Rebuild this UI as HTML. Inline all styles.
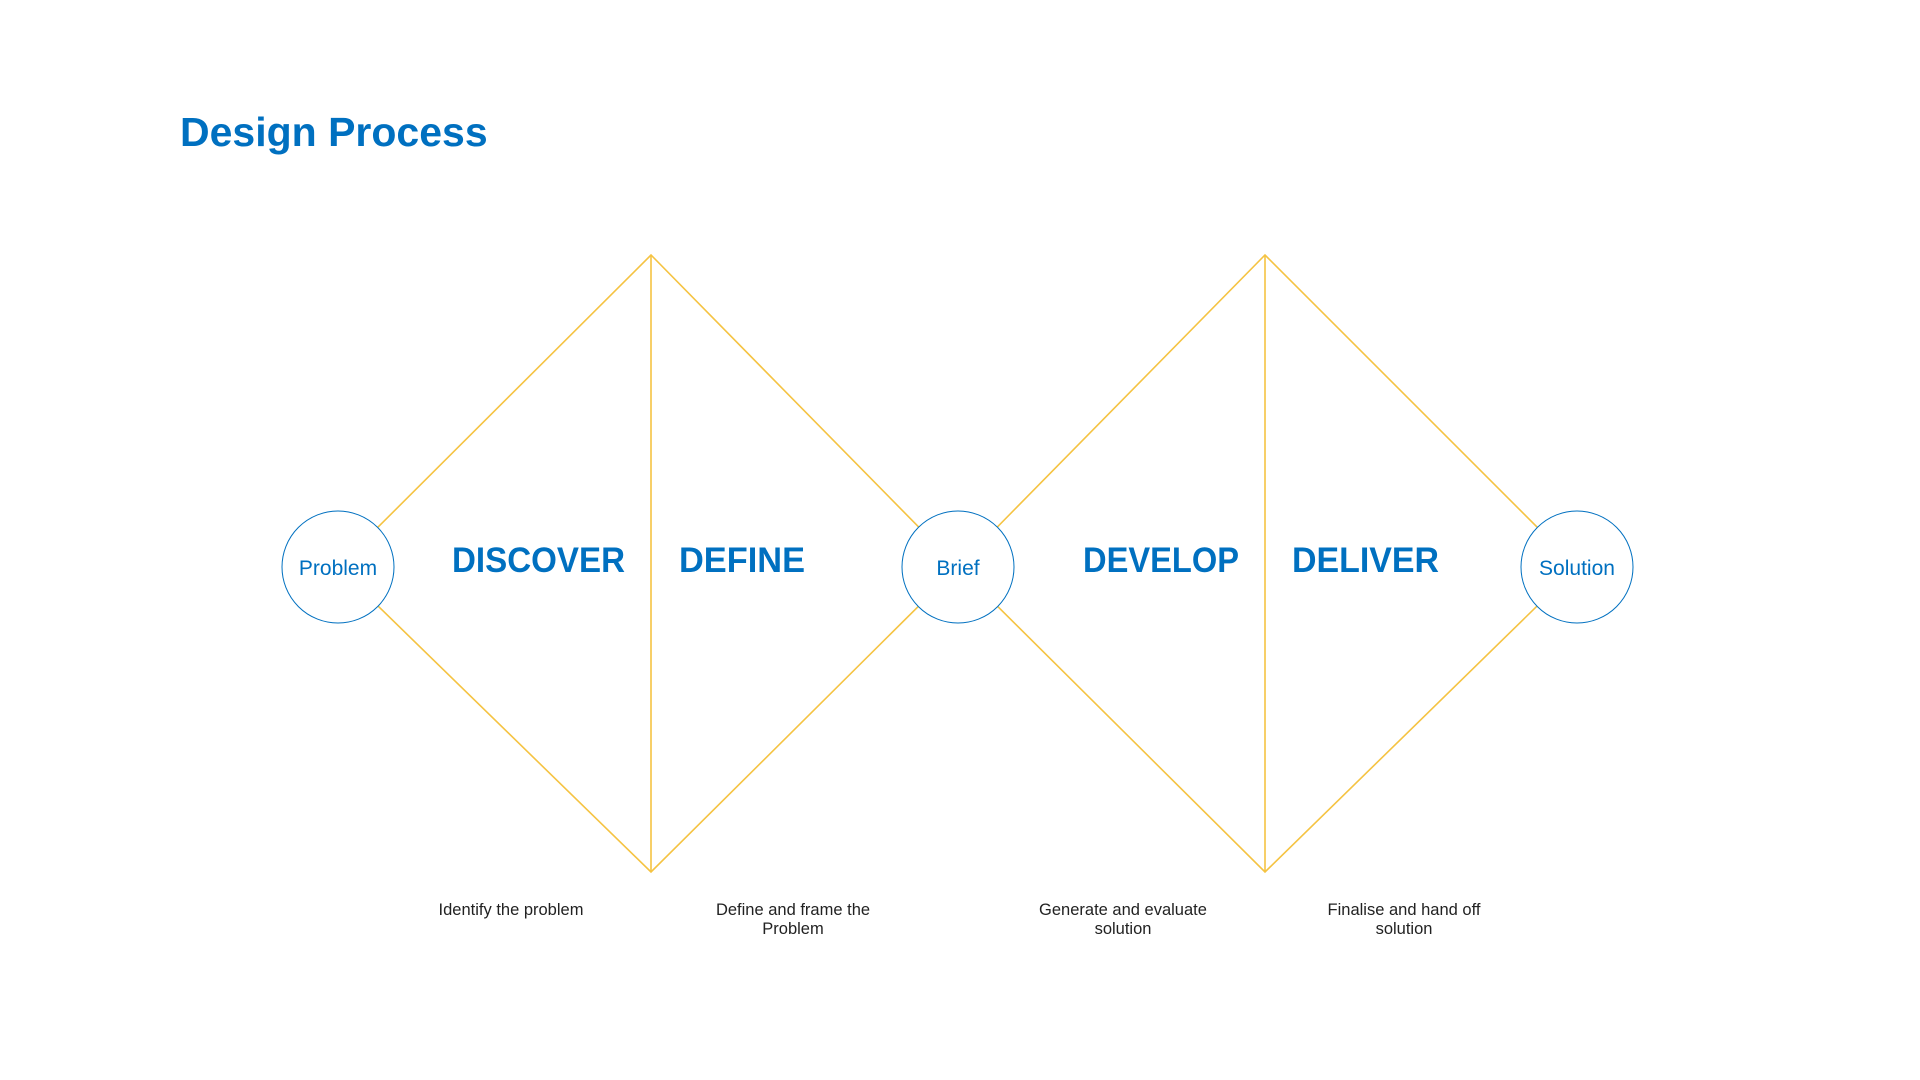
<!DOCTYPE html>
<html><head><meta charset="utf-8"><style>
html,body{margin:0;padding:0;background:#fff;width:1920px;height:1080px;overflow:hidden}
svg{display:block}
</style></head><body>
<svg width="1920" height="1080" viewBox="0 0 1920 1080" xmlns="http://www.w3.org/2000/svg" font-family="Liberation Sans, sans-serif">
<text x="180" y="146" font-size="41" font-weight="bold" fill="#0070c0">Design Process</text>
<g stroke="#f5c342" stroke-width="1.6" fill="none">
<polyline points="338,567 651,255 958,567 651,872 338,567"/>
<line x1="651" y1="255" x2="651" y2="872"/>
<polyline points="958,567 1265,255 1577,567 1265,872 958,567"/>
<line x1="1265" y1="255" x2="1265" y2="872"/>
</g>
<g fill="#fff" stroke="#0070c0" stroke-width="1">
<circle cx="338" cy="567" r="56"/>
<circle cx="958" cy="567" r="56"/>
<circle cx="1577" cy="567" r="56"/>
</g>
<g fill="#0070c0" font-size="21" text-anchor="middle">
<text x="338" y="575">Problem</text>
<text x="958" y="575">Brief</text>
<text x="1577" y="575">Solution</text>
</g>
<g fill="#0070c0" font-size="35" font-weight="bold">
<text x="452" y="572" textLength="173" lengthAdjust="spacingAndGlyphs">DISCOVER</text>
<text x="679" y="572" textLength="126" lengthAdjust="spacingAndGlyphs">DEFINE</text>
<text x="1083" y="572" textLength="156" lengthAdjust="spacingAndGlyphs">DEVELOP</text>
<text x="1292" y="572" textLength="147" lengthAdjust="spacingAndGlyphs">DELIVER</text>
</g>
<g fill="#222" font-size="16.5" text-anchor="middle">
<text x="511" y="915">Identify the problem</text>
<text x="793" y="915">Define and frame the</text>
<text x="793" y="934">Problem</text>
<text x="1123" y="915">Generate and evaluate</text>
<text x="1123" y="934">solution</text>
<text x="1404" y="915">Finalise and hand off</text>
<text x="1404" y="934">solution</text>
</g>
</svg>
</body></html>
